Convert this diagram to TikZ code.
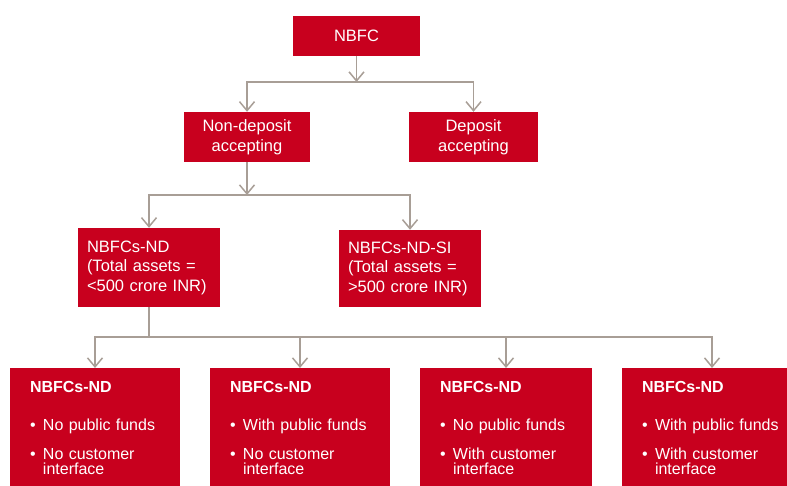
\documentclass[tikz,border=0pt]{standalone}
\usepackage{fontspec}
\setmainfont{Liberation Sans}
\usetikzlibrary{arrows.meta,positioning}
\definecolor{NbfcRed}{RGB}{200,0,30}
\definecolor{LinkGrey}{RGB}{168,158,150}
\newcommand{\bul}{\makebox[13pt][l]{\textbullet}}
\newcommand{\hang}{\hspace*{13pt}}
\newcommand{\tail}{\rule[-25pt]{0pt}{1pt}}
\tikzset{
	box/.style={fill=NbfcRed, text=white, inner sep=0pt, align=center,
		font=\fontsize{16.5}{19.5}\selectfont},
	leftbox/.style={box, align=left, inner xsep=9pt, text width=124pt},
	typebox/.style={fill=NbfcRed, text=white, anchor=north, align=left,
		inner xsep=20pt, inner ysep=13pt, font=\fontsize{16}{15}\selectfont},
	link/.style={draw=LinkGrey, line width=1.5pt},
	arr/.style={link, -{Straight Barb[length=9pt,width=15pt]}}
}

\begin{document}
\begin{tikzpicture}[x=1pt, y=-1pt]
		\useasboundingbox (0,0) rectangle (787,486);
		\clip (0,0) rectangle (787,486);
		\node[box, minimum width=127pt, minimum height=40pt] (nbfc) at (356.5,36) {NBFC};
		\node[box, minimum width=126pt, minimum height=50pt] (nondep) at (247,137) {Non-deposit\\accepting};
		\node[box, minimum width=129pt, minimum height=50pt] (dep) at (473.5,137) {Deposit\\accepting};
		\node[leftbox, minimum height=79pt] (nd) at (149,267.5) {NBFCs-ND\\(Total assets =\\<500 crore INR)};
		\node[leftbox, minimum height=77pt] (ndsi) at (410,268.5) {NBFCs-ND-SI\\(Total assets =\\>500 crore INR)};
		\node[typebox, text width=130pt] (nda) at (95,368) {{\bfseries NBFCs-ND}\\[23pt]\bul No public funds\\[14pt]\bul No customer\\\hang interface\tail};
		\node[typebox, text width=140pt] (ndb) at (300,368) {{\bfseries NBFCs-ND}\\[23pt]\bul With public funds\\[14pt]\bul No customer\\\hang interface\tail};
		\node[typebox, text width=132pt] (ndc) at (506,368) {{\bfseries NBFCs-ND}\\[23pt]\bul No public funds\\[14pt]\bul With customer\\\hang interface\tail};
		\node[typebox, text width=140pt] (ndd) at (712,368) {{\bfseries NBFCs-ND}\\[23pt]\bul With public funds\\[14pt]\bul With customer\\\hang interface\tail};
		\coordinate (j1) at (356.5,82);
		\coordinate (j2) at (247,195);
		\coordinate (j3) at (149,337);
		\draw[arr] (nbfc) -- (j1);
		\draw[arr] (j1) -| (nondep.north);
		\draw[arr] (j1) -| (dep.north);
		\draw[arr] (nondep) -- (j2);
		\draw[arr] (j2) -| (nd.north);
		\draw[arr] (j2) -| (ndsi.north);
		\draw[link] (nd) -- (j3);
		\draw[arr] (j3) -| (nda.north);
		\draw[arr] (j3) -| (ndb.north);
		\draw[arr] (j3) -| (ndc.north);
		\draw[arr] (j3) -| (ndd.north);
	\end{tikzpicture}
\end{document}
